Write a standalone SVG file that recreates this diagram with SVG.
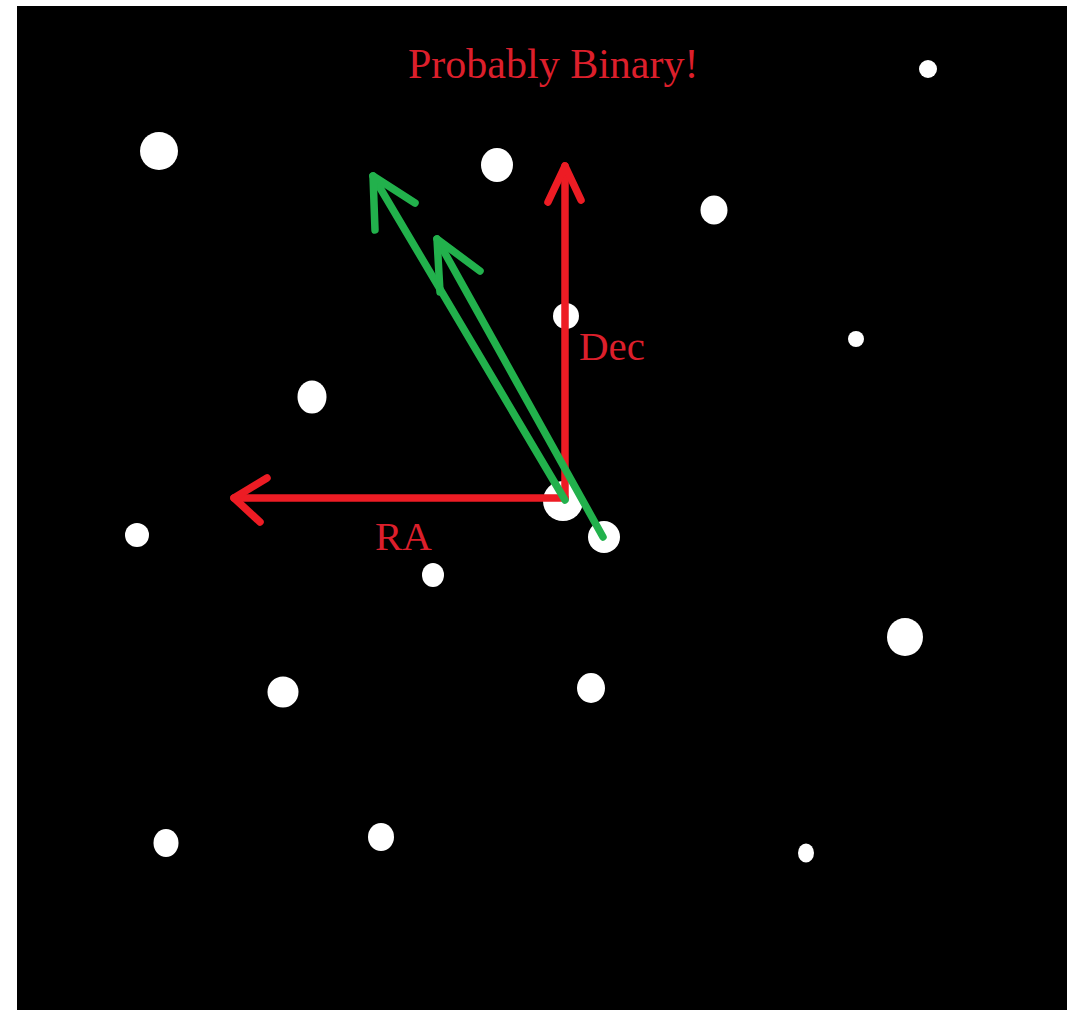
<svg xmlns="http://www.w3.org/2000/svg" width="1067" height="1010" viewBox="0 0 1067 1010">
<style>
.star{fill:#ffffff}
.red{stroke:#ED1C24;stroke-width:7.5;fill:none;stroke-linecap:round;stroke-linejoin:round}
.green{stroke:#22B14C;stroke-width:7.5;fill:none;stroke-linecap:round;stroke-linejoin:round}
.lbl{font-family:"Liberation Serif","Times New Roman",serif;font-size:41px;fill:#dc1f2b}
.title{font-size:42px}
</style>
<rect x="0" y="0" width="1067" height="1010" fill="#ffffff"/>
<rect x="17" y="6" width="1050" height="1004" fill="#000000"/>
<g id="stars">
<circle class="star" cx="159" cy="151" r="19"/>
<ellipse class="star" cx="497" cy="165" rx="16" ry="17"/>
<circle class="star" cx="928" cy="69" r="9"/>
<ellipse class="star" cx="714" cy="210" rx="13.5" ry="14.5"/>
<circle class="star" cx="566" cy="316" r="13"/>
<circle class="star" cx="856" cy="339" r="8"/>
<ellipse class="star" cx="312" cy="397" rx="14.5" ry="16.5"/>
<circle class="star" cx="563" cy="501" r="20"/>
<circle class="star" cx="604" cy="537" r="16"/>
<circle class="star" cx="137" cy="535" r="12"/>
<ellipse class="star" cx="433" cy="575" rx="11" ry="12"/>
<ellipse class="star" cx="905" cy="637" rx="18" ry="19"/>
<circle class="star" cx="283" cy="692" r="15.5"/>
<ellipse class="star" cx="591" cy="688" rx="14" ry="15"/>
<ellipse class="star" cx="166" cy="843" rx="12.5" ry="14"/>
<ellipse class="star" cx="381" cy="837" rx="13" ry="14"/>
<ellipse class="star" cx="806" cy="853" rx="8" ry="9.5"/>
</g>
<g id="connectors">
<g id="dec-axis">
<path class="red" d="M565,498 L565,166"/>
<path class="red" d="M548,202 L565,166 L581,200"/>
</g>
<g id="ra-axis">
<path class="red" d="M565,498 L234,498"/>
<path class="red" d="M267,478 L234,498 L260,522"/>
</g>
<g id="motion-1">
<path class="green" d="M565,500 L373,176"/>
<path class="green" d="M375,230 L373,176 L415,203"/>
</g>
<g id="motion-2">
<path class="green" d="M603,537 L437,239"/>
<path class="green" d="M440,292 L437,239 L480,271"/>
</g>
</g>
<g id="labels">
<text class="lbl title" x="408" y="78">Probably Binary!</text>
<text class="lbl" x="579" y="360">Dec</text>
<text class="lbl" x="375" y="550">RA</text>
</g>
</svg>
